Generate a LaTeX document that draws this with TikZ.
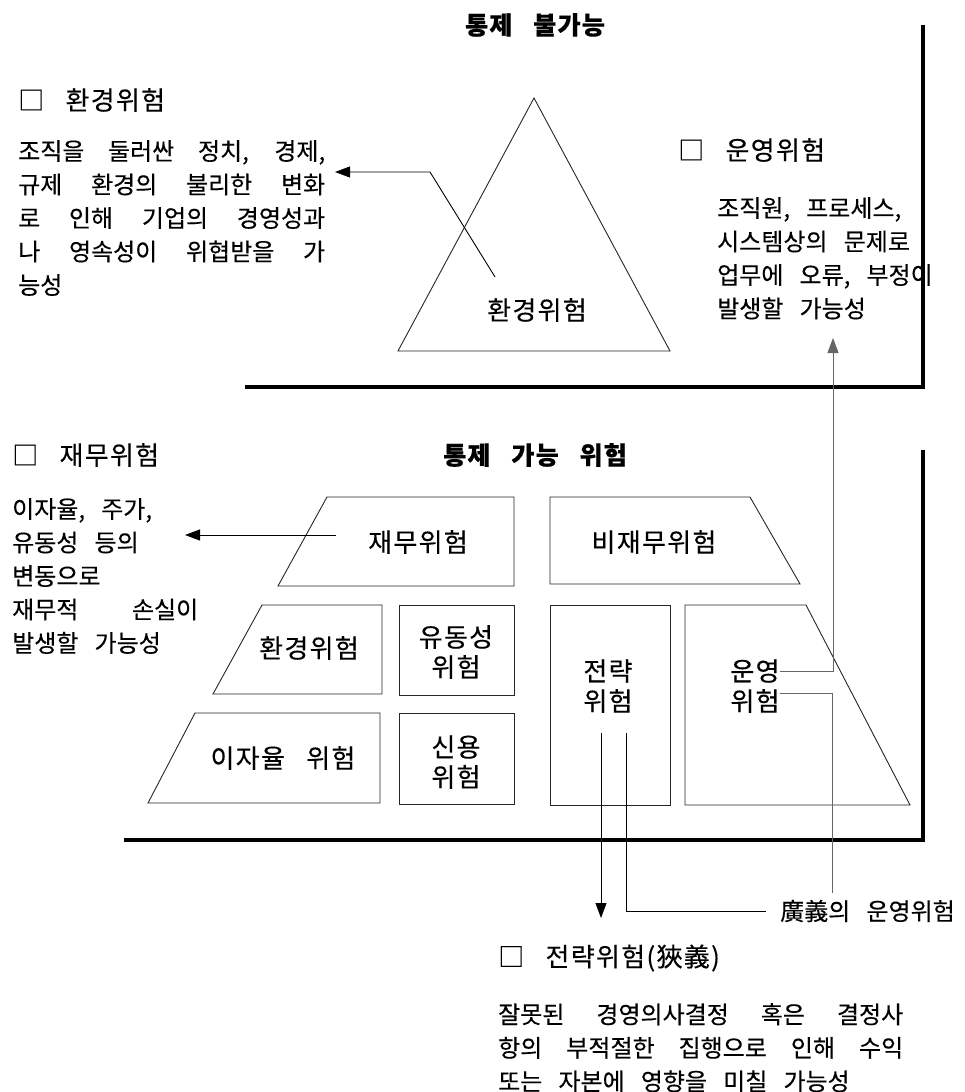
\documentclass[tikz,border=0pt]{standalone}
\usepackage{fontspec}
\setmainfont{Noto Sans CJK KR}
\newfontfamily\lblfont[LetterSpace=5,WordSpace=3,FakeBold=0.3]{Noto Sans CJK KR}
\newfontfamily\descfont[WordSpace=3,FakeBold=0.3]{Noto Sans CJK KR}
\usetikzlibrary{arrows.meta,positioning}
\newcommand{\jl}[2]{\makebox[#1pt][s]{#2}}
\tikzset{
  shp/.style={draw=black!85, line width=0.9pt},
  frm/.style={line width=4pt},
  lbl/.style={font=\lblfont\fontsize{26}{30}\selectfont, inner sep=0pt},
  ttl/.style={font=\lblfont\fontsize{25}{25}\selectfont\bfseries, inner sep=0pt},
  desc/.style={font=\descfont\fontsize{24}{33.5}\selectfont, inner sep=0pt, align=left, anchor=north west},
  arr/.style={-{Triangle[length=15pt,width=11pt]}, line width=0.9pt},
}

\begin{document}
\begin{tikzpicture}[x=1pt,y=-1pt]
\useasboundingbox (0,0) rectangle (964,1092);
% frames
\draw[frm] (245,387) -| (923,25);
\draw[frm] (124,840) -| (923,450);
\node[ttl] (tUp) at (535,25) {통제 불가능};
\node[ttl] (tLow) at (535,455) {통제 가능 위험};

% upper part
\draw[shp] (534,98) -- (670,351) -- (398,351) -- cycle;
\node[lbl] (envIn) at (537,310) {환경위험};
\node[lbl,anchor=west] (envH) at (18,100) {□ 환경위험};
\node[desc] (envD) at (18,140) {\jl{307}{조직을 둘러싼 정치, 경제,}\\
  \jl{307}{규제 환경의 불리한 변화}\\
  \jl{307}{로 인해 기업의 경영성과}\\
  \jl{307}{나 영속성이 위협받을 가}\\
  능성};
\coordinate (envK) at (430,172);
\coordinate (envT) at (335,172);
\draw[arr] ([xshift=-42pt,yshift=21pt]envIn.north) -- (envK) -- (envT);

\node[lbl,anchor=west] (opH) at (678,150) {□ 운영위험};
\node[desc] (opD) at (717,197) {조직원, 프로세스,\\
  시스템상의 문제로\\
  업무에 오류, 부정이\\
  발생할 가능성};

% lower part
\node[lbl,anchor=west] (finH) at (12,455) {□ 재무위험};
\node[desc] (finD) at (12,498) {이자율, 주가,\\
  유동성 등의\\
  변동으로\\
  \jl{186}{재무적 손실이}\\
  발생할 가능성};

\draw[shp] (327,497) -- (514,497) -- (514,586) -- (278,586) -- cycle;
\node[lbl] (finL) at (418,542) {재무위험};
\draw[shp] (550,497) -- (750,497) -- (800,584) -- (550,584) -- cycle;
\node[lbl] (nfinL) at (654,542) {비재무위험};

\draw[shp] (262,605) -- (382,605) -- (382,694) -- (213,694) -- cycle;
\node[lbl] (envL) at (309,648) {환경위험};
\draw[shp] (399,605) rectangle (514,695);
\node[lbl,align=center] (liqL) at (456,652) {유동성\\위험};
\draw[shp] (195,713) -- (380,713) -- (380,803) -- (148,803) -- cycle;
\node[lbl] (intL) at (283,758) {이자율 위험};
\draw[shp] (399,713) rectangle (514,804);
\node[lbl,align=center] (crdL) at (456,762) {신용\\위험};

\draw[shp] (550,605) rectangle (670,805);
\node[lbl] (stA) at (608,671) {전략};
\node[lbl] (stB) at (608,701) {위험};
\draw[shp] (685,605) -- (806,605) -- (910,805) -- (685,805) -- cycle;
\node[lbl] (opA) at (755,671) {운영};
\node[lbl] (opB) at (755,701) {위험};

\draw[arr] ([xshift=-32pt,yshift=7pt]finL.west) -- (185,535) coordinate (finT);

% connectors to the notes
\coordinate (opT) at (833,338);
\draw[arr,black!60] (opA.east) -| (opT);
\node[desc,anchor=east] (wide) at (955,911) {廣義의 운영위험};
\coordinate (wideE) at (832,893);
\draw[line width=0.9pt,black!60] ([yshift=8pt]opB.east) -| (wideE);
\coordinate (stT) at (601,918);
\draw[arr] ([xshift=-7pt,yshift=-20pt]stB.south) -- (stT);
\draw[line width=0.9pt] ([xshift=18pt,yshift=-20pt]stB.south) |- ([xshift=-14pt]wide.west);

\node[lbl,anchor=west] (stH) at (498,958) {□ 전략위험(狹義)};
\node[desc] (stD) at (498,1003) {\jl{405}{잘못된 경영의사결정 혹은 결정사}\\
  \jl{405}{항의 부적절한 집행으로 인해 수익}\\
  또는 자본에 영향을 미칠 가능성};
\end{tikzpicture}
\end{document}
